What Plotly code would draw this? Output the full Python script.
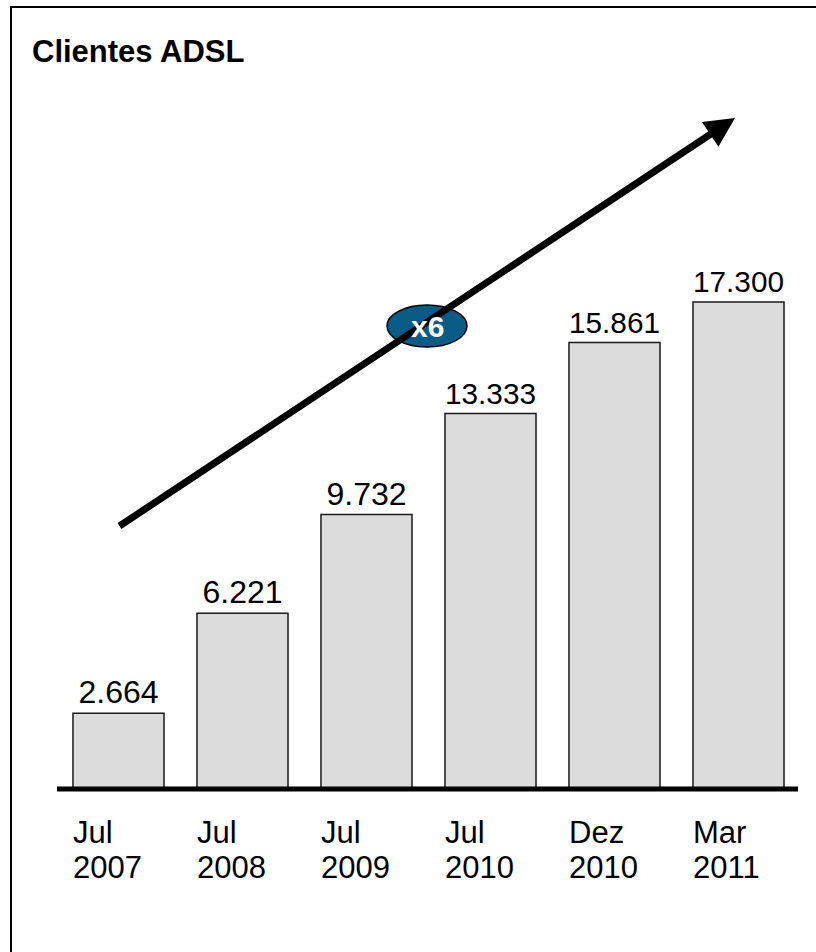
import plotly.graph_objects as go

W, H = 816, 952

months = ["Jul", "Jul", "Jul", "Jul", "Dez", "Mar"]
years = ["2007", "2008", "2009", "2010", "2010", "2011"]
values = [2664, 6221, 9732, 13333, 15861, 17300]
title = "Clientes ADSL"
multiplier = "x6"

FONT = "Arial, Liberation Sans, sans-serif"
xs = list(range(len(values)))
bar_w = 0.734

fig = go.Figure()
fig.add_trace(go.Bar(
    x=xs, y=values, width=bar_w,
    marker=dict(color="#dcdcdc", line=dict(color="#1a1a1a", width=1.5)),
    texttemplate="%{y:,}", textposition="outside",
    textfont=dict(family=FONT, size=32, color="#000000"),
    cliponaxis=False, hoverinfo="skip",
))


def px(x):
    return x / W


def py(y):
    return 1 - y / H


annotations = []
annotations.append(dict(text=f"<b>{title}</b>", x=px(33), y=py(51), xref="paper", yref="paper",
                        xanchor="left", yanchor="middle", xshift=-3, showarrow=False,
                        font=dict(family=FONT, size=31, color="#000000")))
for i, (m, yr) in enumerate(zip(months, years)):
    for txt, yy in ((m, 832), (yr, 867.5)):
        annotations.append(dict(text=txt, x=i - bar_w / 2, y=py(yy), xref="x", yref="paper",
                                xanchor="left", yanchor="middle", xshift=-2, showarrow=False,
                                font=dict(family=FONT, size=31, color="#000000")))
annotations.append(dict(text="", x=px(735), y=py(118), xref="paper", yref="paper",
                        ax=118 - 735, ay=527 - 118, axref="pixel", ayref="pixel",
                        showarrow=True, arrowhead=2, arrowsize=0.85, arrowwidth=7,
                        arrowcolor="#000000"))

shapes = [
    # frame: top and left edges (the right and bottom edges lie outside the picture)
    dict(type="line", xref="paper", yref="paper", x0=px(10), x1=1.0, y0=py(7), y1=py(7),
         line=dict(color="#000000", width=2), layer="above"),
    dict(type="line", xref="paper", yref="paper", x0=px(11), x1=px(11), y0=py(6), y1=0.0,
         line=dict(color="#000000", width=2), layer="above"),
    # baseline
    dict(type="line", xref="paper", yref="paper", x0=px(57), x1=px(798), y0=py(789), y1=py(789),
         line=dict(color="#000000", width=5), layer="above"),
    # multiplier ellipse
    dict(type="circle", xref="paper", yref="paper", x0=px(387), x1=px(467), y0=py(347), y1=py(305),
         line=dict(color="#000000", width=1.5), fillcolor="#0b5b87", layer="above"),
]

annotations.append(dict(text=f"<b>{multiplier}</b>", x=px(427), y=py(326), xref="paper", yref="paper",
                        xanchor="center", yanchor="middle", showarrow=False,
                        font=dict(family=FONT, size=30, color="#ffffff")))

# axis ranges chosen so the baseline sits at pixel 788 and 17300 reaches pixel 302
scale = (788 - 302) / 17300.0
y0 = -(H - 788) / scale
y1 = y0 + H / scale
x0 = -118.5 / 124.0
x1 = x0 + W / 124.0

fig.update_layout(
    width=W, height=H,
    margin=dict(l=0, r=0, t=0, b=0),
    paper_bgcolor="#ffffff", plot_bgcolor="#ffffff",
    separators=",.",
    showlegend=False,
    xaxis=dict(range=[x0, x1], visible=False, fixedrange=True),
    yaxis=dict(range=[y0, y1], visible=False, fixedrange=True),
    annotations=annotations,
    shapes=shapes,
)

fig.write_html(
    "out.html",
    config={"displayModeBar": False},
    post_script="document.body.style.margin='0';document.body.style.overflow='hidden';",
)
